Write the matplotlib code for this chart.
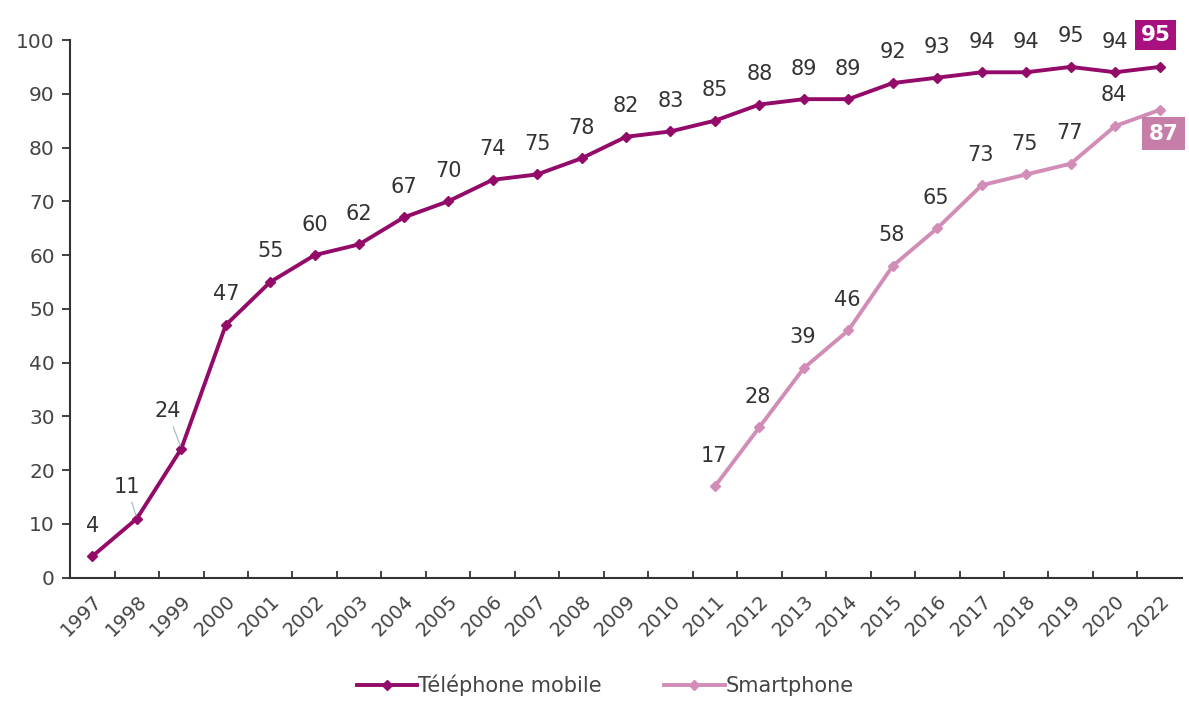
import matplotlib.pyplot as plt
import numpy as np

years = ["1997", "1998", "1999", "2000", "2001", "2002", "2003", "2004", "2005",
         "2006", "2007", "2008", "2009", "2010", "2011", "2012", "2013", "2014",
         "2015", "2016", "2017", "2018", "2019", "2020", "2022"]
mobile = [4, 11, 24, 47, 55, 60, 62, 67, 70, 74, 75, 78, 82, 83, 85, 88, 89, 89,
          92, 93, 94, 94, 95, 94, 95]
smart_years = ["2011", "2012", "2013", "2014", "2015", "2016", "2017", "2018",
               "2019", "2020", "2022"]
smart = [17, 28, 39, 46, 58, 65, 73, 75, 77, 84, 87]

c_mob = "#930A68"
c_mob_box = "#A8107F"
c_sm = "#D18DB6"
c_sm_box = "#C67DA8"
c_txt = "#333333"
c_tick = "#444444"

plt.rcParams['font.family'] = ['DejaVu Sans']

fig = plt.figure(figsize=(11.89, 7.02), dpi=100)
ax = fig.add_axes([0.059, 0.177, 0.935, 0.766])

x = np.arange(len(years))
xs = np.array([years.index(y) for y in smart_years])

ax.plot(x, mobile, color=c_mob, lw=2.8, marker="D", ms=5,
        label="Téléphone mobile", zorder=3)
ax.plot(xs, smart, color=c_sm, lw=2.8, marker="D", ms=5,
        label="Smartphone", zorder=3)

# data labels, last value boxed
for i, v in enumerate(mobile[:-1]):
    dx, dy = 0, 22
    arrow = None
    if i == 1:
        dx, dy = -7, 23
        arrow = dict(arrowstyle="-", color="#9fb8c0", lw=0.8)
    elif i == 2:
        dx, dy = -10, 27
        arrow = dict(arrowstyle="-", color="#9fb8c0", lw=0.8)
    ax.annotate(str(v), (x[i], v), xytext=(dx, dy), textcoords="offset points",
                ha="center", va="center", fontsize=15, color=c_txt,
                arrowprops=arrow)
for i, v in zip(xs[:-1], smart[:-1]):
    ax.annotate(str(v), (i, v), xytext=(-1, 22), textcoords="offset points",
                ha="center", va="center", fontsize=15, color=c_txt)

ax.annotate(str(mobile[-1]), (x[-1], mobile[-1]), xytext=(-3, 23),
            textcoords="offset points", ha="center", va="center",
            fontsize=15.5, fontweight="bold", color="white",
            bbox=dict(boxstyle="square,pad=0.25", fc=c_mob_box, ec="none"))
ax.annotate(str(smart[-1]), (xs[-1], smart[-1]), xytext=(3, -17),
            textcoords="offset points", ha="center", va="center",
            fontsize=15.5, fontweight="bold", color="white",
            bbox=dict(boxstyle="square,pad=0.3", fc=c_sm_box, ec="none"))

ax.set_xlim(-0.5, len(years) - 0.5)
ax.set_ylim(0, 100)
ax.set_yticks(range(0, 101, 10))
ax.set_xticks(x)
ax.set_xticklabels(years, rotation=45, ha="right", rotation_mode="anchor")
ax.set_xticks(np.arange(0.5, len(years) - 0.5, 1), minor=True)
ax.tick_params(axis="x", which="major", length=0, labelsize=14,
               labelcolor=c_tick, pad=10)
ax.tick_params(axis="x", which="minor", length=5, direction="in",
               color="#333333", width=1.3)
ax.tick_params(axis="y", length=6, direction="out", labelsize=14.5,
               labelcolor=c_tick, color="#333333", width=1.3, pad=5)

for s in ["top", "right"]:
    ax.spines[s].set_visible(False)
for s in ["left", "bottom"]:
    ax.spines[s].set_color("#333333")
    ax.spines[s].set_linewidth(1.5)

fig.legend(loc="center", bbox_to_anchor=(0.509, 0.024), ncol=2,
           frameon=False, fontsize=15, labelcolor=c_tick, handlelength=2.9,
           handletextpad=0.05, columnspacing=3.0)

fig.savefig("out.png", dpi=100)
